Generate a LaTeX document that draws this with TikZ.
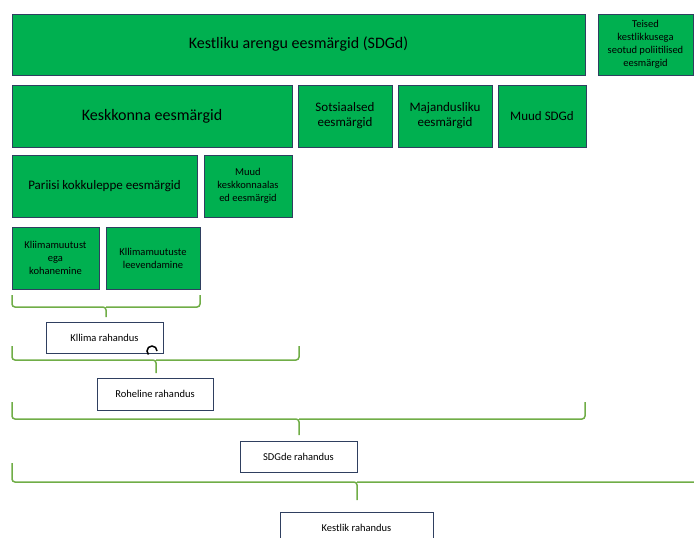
\documentclass[tikz,border=0pt]{standalone}
\usepackage{fontspec}
\setmainfont{Carlito}
\definecolor{goalgreen}{HTML}{00B050}
\definecolor{boxedge}{HTML}{2F3F60}
\definecolor{bracegreen}{HTML}{70AD47}
\begin{document}
\begin{tikzpicture}[x=1pt,y=-1pt,line width=1pt,
  goal/.style={draw=boxedge,fill=goalgreen,inner sep=0pt,align=center,font=\fontsize{13}{15}\selectfont},
  goalbig/.style={goal,font=\fontsize{16}{19}\selectfont},
  goalsmall/.style={goal,font=\fontsize{10.5}{13}\selectfont},
  fund/.style={draw=boxedge,fill=white,inner sep=0pt,minimum height=31pt,font=\fontsize{10.5}{13}\selectfont},
  kaar/.style={draw=bracegreen,line width=1.5pt,rounded corners=3pt}]
  \useasboundingbox (0,0) rectangle (694,538);
  \clip (0,0) rectangle (694,538);
  % eesmargid
  \node[goalbig,minimum width=573pt,minimum height=61pt] (sdg) at (298.5,44.5) {Kestliku arengu eesmärgid (SDGd)};
  \node[goalsmall,minimum width=95pt,minimum height=61pt] (teised) at (645.5,44.5) {Teised\\kestlikkusega\\seotud poliitilised\\eesmärgid};
  \node[goalbig,minimum width=280pt,minimum height=62pt] (keskk) at (152,116) {Keskkonna eesmärgid};
  \node[goal,minimum width=94pt,minimum height=62pt] (sots) at (345,116) {Sotsiaalsed\\eesmärgid};
  \node[goal,minimum width=94pt,minimum height=62pt] (maj) at (445,116) {Majandusliku\\eesmärgid};
  \node[goal,minimum width=88pt,minimum height=62pt] (muudsdg) at (542,116) {Muud SDGd};
  \node[goal,minimum width=185pt,minimum height=62pt] (pariis) at (104.5,186) {Pariisi kokkuleppe eesmärgid};
  \node[goalsmall,minimum width=88pt,minimum height=62pt] (muudk) at (248,186) {Muud\\keskkonnaalas\\ed eesmärgid};
  \node[goalsmall,minimum width=87pt,minimum height=62pt] (kohan) at (55.5,258) {Kliimamuutust\\ega\\kohanemine};
  \node[goalsmall,minimum width=94pt,minimum height=62pt] (leeven) at (153,258) {Kllimamuutuste\\leevendamine};
  % rahastus
  \node[fund,minimum width=117pt] (kliima) at (104.5,337.5) {Kllima rahandus};
  \draw[line width=1.5pt] (157,351) arc[start angle=0,end angle=225,radius=5pt];
  \node[fund,minimum width=116pt,minimum height=32pt] (roheline) at (155,394) {Roheline rahandus};
  \node[fund,minimum width=117pt] (sdgraha) at (298.5,456.5) {SDGde rahandus};
  \node[fund,minimum width=153pt] (kestlik) at (356.5,527.5) {Kestlik rahandus};
  % sulud
  \draw[kaar] (12,295)--(12,307)--(106,307)--(106,317) (106,307)--(200,307)--(200,295);
  \draw[kaar] (12,346)--(12,360)--(156,360)--(156,373) (156,360)--(299,360)--(299,346);
  \draw[kaar] (12,402)--(12,419)--(299,419)--(299,435) (299,419)--(585,419)--(585,402);
  \draw[kaar] (12,463)--(12,482)--(357,482)--(357,500) (357,482)--(720,482)--(720,463);
\end{tikzpicture}
\end{document}
